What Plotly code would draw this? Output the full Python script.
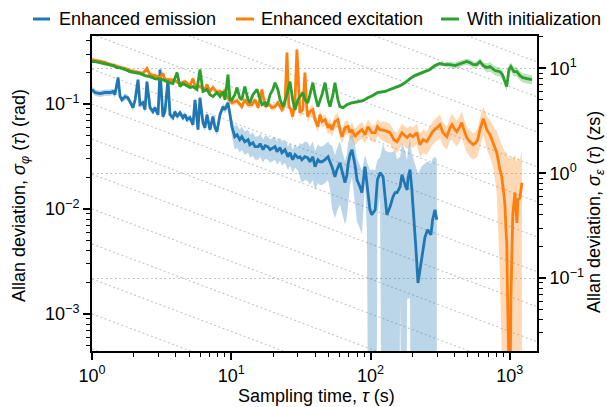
import plotly.graph_objects as go

# ---------------- data ----------------
blue_tau = [
    1.00, 1.05, 1.14, 1.24, 1.35, 1.42, 1.46, 1.54, 1.59, 1.64,
    1.73, 1.81, 1.87, 1.97, 2.04, 2.14, 2.21, 2.32, 2.40, 2.48,
    2.61, 2.74, 2.83, 2.98, 3.08, 3.23, 3.34, 3.51, 3.63, 3.81,
    3.94, 4.08, 4.28, 4.50, 4.65, 4.81, 5.05, 5.31, 5.49, 5.77,
    5.96, 6.26, 6.47, 6.69, 7.03, 7.39, 7.64, 7.89, 8.30, 8.72,
    9.01, 9.47, 9.79, 10.1, 10.6, 11.0, 11.5, 11.9, 12.5, 13.2,
    13.6, 14.3, 14.8, 15.6, 16.1, 16.9, 17.5, 18.3, 19.0, 20.6,
    21.3, 22.4, 23.1, 24.3, 25.5, 26.4, 27.6, 28.7, 30.1, 31.1,
    32.1, 33.8, 35.4, 36.7, 38.5, 39.9, 41.9, 43.3, 44.8, 47.1,
    49.5, 51.1, 52.8, 55.5, 57.4, 60.3, 62.3, 65.5, 67.7, 68.9,
    71.1, 73.5, 77.3, 79.9, 83.9, 86.7, 91.2, 94.2, 99.0, 102,
    108, 112, 117, 123, 127, 131, 138, 145, 150, 155,
    163, 168, 177, 183, 186, 192, 198, 205, 212, 219,
    226, 233, 246, 257, 271, 279, 290, 299,
]
blue_sigma = [
    0.138, 0.129, 0.126, 0.129, 0.129, 0.132, 0.123, 0.179, 0.118, 0.110,
    0.118, 0.115, 0.106, 0.0926, 0.110, 0.171, 0.0989, 0.103, 0.0886, 0.164,
    0.0926, 0.0848, 0.0926, 0.0794, 0.214, 0.0760, 0.0848, 0.171, 0.0794, 0.0743,
    0.0848, 0.0760, 0.0829, 0.0743, 0.0794, 0.0711, 0.0743, 0.0637, 0.110, 0.0571,
    0.115, 0.0666, 0.0596, 0.0794, 0.0571, 0.0760, 0.0596, 0.0546, 0.0794, 0.0946,
    0.0886, 0.103, 0.0794, 0.0610, 0.0489, 0.0511, 0.0458, 0.0489, 0.0438, 0.0458,
    0.0410, 0.0429, 0.0393, 0.0393, 0.0419, 0.0368, 0.0401, 0.0393, 0.0368, 0.0393,
    0.0352, 0.0384, 0.0344, 0.0368, 0.0315, 0.0344, 0.0295, 0.0330, 0.0308, 0.0315,
    0.0295, 0.0315, 0.0308, 0.0282, 0.0315, 0.0253, 0.0295, 0.0282, 0.0282, 0.0295,
    0.0315, 0.0282, 0.0253, 0.0203, 0.0237, 0.0276, 0.0227, 0.0178, 0.0212, 0.0264,
    0.0330, 0.0368, 0.0264, 0.0190, 0.0163, 0.0143, 0.0253, 0.0170, 0.00982, 0.00881,
    0.00982, 0.0190, 0.0222, 0.0203, 0.0122, 0.00881, 0.0105, 0.0131, 0.0143, 0.0143,
    0.0163, 0.0212, 0.0170, 0.0152, 0.0199, 0.0237, 0.0152, 0.00824, 0.00407, 0.00197,
    0.00262, 0.00365, 0.00542, 0.00633, 0.00567, 0.00788, 0.00982, 0.00788,
]
blue_rel_err = (
    [0.07] * 40
    + [0.08] * 10
    + [0.08, 0.08, 0.1, 0.2, 0.25, 0.25, 0.25, 0.25, 0.25, 0.25]
    + [0.25] * 10
    + [0.25] * 9 + [0.35]
    + [0.4] * 10
    + [0.4, 0.45, 0.6, 0.6, 0.6, 0.6, 0.6, 0.6, 0.6, 0.6]
    + [0.5, 0.45, 0.55, 0.6, 0.6, 0.6, 0.3, 0.65, 1.4, 1.7]
    + [1.4, 0.55, 0.4, 1.05, 2.0, 3.0, 2.3, 1.7, 1.5, 1.1]
    + [0.92, 1.05, 1.1, 0.91, 0.93, 0.94, 1.2, 2.5, 5.0, 10.0]
    + [8.0, 6.0, 4.0, 3.5, 3.8, 2.8, 2.2, 2.8]
)

orange_tau = [
    1.00, 1.05, 1.14, 1.24, 1.35, 1.46, 1.59, 1.73, 1.87, 2.04,
    2.21, 2.32, 2.48, 2.61, 2.83, 3.08, 3.23, 3.34, 3.63, 3.94,
    4.28, 4.65, 5.05, 5.31, 5.49, 5.96, 6.47, 6.69, 7.03, 7.39,
    7.89, 8.30, 8.72, 9.01, 9.47, 10.1, 11.0, 11.9, 12.5, 13.2,
    14.1, 14.8, 15.6, 16.6, 17.5, 18.3, 19.6, 20.6, 21.6, 23.1,
    24.3, 25.1, 25.9, 26.8, 27.6, 28.7, 29.6, 30.6, 31.1, 32.6,
    33.8, 34.9, 35.4, 36.7, 38.5, 39.9, 41.9, 43.3, 44.8, 47.1,
    49.5, 51.1, 52.8, 55.5, 58.3, 60.3, 62.3, 65.5, 68.9, 71.1,
    73.5, 77.3, 81.2, 86.7, 91.2, 95.8, 102, 108, 112, 117,
    127, 138, 147, 155, 163, 168, 183, 192, 201, 215,
    226, 238, 253, 267, 279, 299, 315, 331, 353, 372,
    384, 404, 416, 438, 451, 476, 490, 517, 546, 571,
    588, 610, 630, 644, 663, 683, 720, 760, 782, 806,
    849, 875, 907, 922, 938, 950, 964, 985, 1000, 1017,
    1034, 1050, 1088, 1106, 1124, 1142, 1182, 1221,
]
orange_sigma = [
    0.266, 0.260, 0.255, 0.249, 0.238, 0.233, 0.223, 0.218, 0.209, 0.204,
    0.200, 0.196, 0.218, 0.191, 0.187, 0.179, 0.196, 0.171, 0.171, 0.168,
    0.157, 0.164, 0.150, 0.175, 0.150, 0.147, 0.138, 0.154, 0.132, 0.144,
    0.129, 0.132, 0.121, 0.138, 0.115, 0.103, 0.108, 0.0946, 0.110, 0.0989,
    0.0989, 0.110, 0.0926, 0.138, 0.0946, 0.103, 0.0926, 0.0946, 0.103, 0.0886,
    0.0989, 0.310, 0.0946, 0.0886, 0.0760, 0.110, 0.332, 0.0989, 0.0829, 0.0886,
    0.200, 0.0886, 0.0760, 0.0848, 0.0886, 0.0711, 0.0610, 0.0794, 0.0681, 0.0711,
    0.0596, 0.0637, 0.0571, 0.0681, 0.0711, 0.0571, 0.0489, 0.0596, 0.0610, 0.0534,
    0.0571, 0.0489, 0.0534, 0.0571, 0.0511, 0.0610, 0.0534, 0.0534, 0.0610, 0.0571,
    0.0558, 0.0534, 0.0458, 0.0438, 0.0500, 0.0534, 0.0479, 0.0511, 0.0489, 0.0534,
    0.0410, 0.0458, 0.0438, 0.0500, 0.0546, 0.0596, 0.0637, 0.0534, 0.0489, 0.0596,
    0.0637, 0.0571, 0.0546, 0.0610, 0.0666, 0.0534, 0.0479, 0.0438, 0.0410, 0.0429,
    0.0458, 0.0571, 0.0681, 0.0727, 0.0651, 0.0571, 0.0511, 0.0429, 0.0384, 0.0344,
    0.0237, 0.0203, 0.0137, 0.0110, 0.00633, 0.00486, 0.00136, 0.0001, 0.0001, 0.00136,
    0.00407, 0.00881, 0.0143, 0.00982, 0.00738, 0.0122, 0.0128, 0.0178,
]
orange_rel_err = (
    [0.05] * 30
    + [0.07] * 20
    + [0.1] * 10
    + [0.12] * 10
    + [0.15] * 10
    + [0.18] * 10
    + [0.22] * 10
    + [0.25] * 10
    + [0.28] * 10
    + [0.3, 0.3, 0.3, 0.3, 0.32, 0.35, 0.38, 0.42, 0.5, 0.6]
    + [0.9, 1.0, 1.7, 2.2, 4.5, 6.0, 22.0, 300.0, 300.0, 22.0]
    + [7.0, 2.4, 1.3, 2.0, 2.8, 1.5, 1.3, 1.05]
)

green_tau = [
    1.00, 1.05, 1.14, 1.24, 1.35, 1.42, 1.51, 1.59, 1.73, 1.87,
    2.04, 2.21, 2.40, 2.61, 2.83, 3.08, 3.23, 3.45, 3.63, 3.81,
    4.08, 4.28, 4.50, 4.81, 5.05, 5.31, 5.67, 5.96, 6.26, 6.69,
    7.03, 7.39, 7.89, 8.30, 8.72, 9.01, 9.47, 9.79, 10.1, 10.6,
    11.0, 11.5, 11.9, 12.5, 13.2, 13.6, 14.3, 15.3, 16.1, 16.6,
    17.5, 18.0, 19.0, 19.9, 20.6, 21.6, 22.4, 23.5, 25.1, 26.4,
    27.6, 28.7, 30.1, 31.1, 32.6, 33.8, 35.4, 36.7, 38.5, 39.9,
    41.9, 44.8, 47.1, 49.5, 51.1, 53.7, 55.5, 58.3, 60.3, 63.4,
    67.7, 73.5, 81.2, 88.2, 95.8, 104, 112, 127, 138, 150,
    163, 177, 192, 208, 226, 246, 267, 290, 315, 342,
    372, 404, 438, 457, 490, 517, 546, 579, 610, 644,
    683, 720, 782, 849, 884, 922, 950, 985, 1017, 1070,
    1124, 1182, 1241, 1327, 1442,
]
green_sigma = [
    0.255, 0.255, 0.249, 0.2436, 0.238, 0.233, 0.223, 0.223, 0.214, 0.204,
    0.200, 0.196, 0.187, 0.183, 0.175, 0.171, 0.171, 0.164, 0.160, 0.157,
    0.200, 0.147, 0.157, 0.150, 0.144, 0.147, 0.138, 0.214, 0.132, 0.138,
    0.123, 0.118, 0.129, 0.118, 0.132, 0.110, 0.191, 0.110, 0.110, 0.123,
    0.144, 0.115, 0.110, 0.147, 0.110, 0.103, 0.123, 0.138, 0.110, 0.0989,
    0.103, 0.0946, 0.123, 0.138, 0.160, 0.138, 0.110, 0.0946, 0.123, 0.164,
    0.110, 0.0886, 0.110, 0.118, 0.129, 0.110, 0.103, 0.123, 0.160, 0.123,
    0.0946, 0.123, 0.160, 0.110, 0.0946, 0.123, 0.160, 0.110, 0.0946, 0.0926,
    0.0989, 0.103, 0.106, 0.108, 0.115, 0.121, 0.129, 0.132, 0.138, 0.144,
    0.150, 0.160, 0.175, 0.187, 0.196, 0.204, 0.214, 0.233, 0.2436, 0.238,
    0.238, 0.233, 0.2436, 0.249, 0.255, 0.249, 0.238, 0.238, 0.255, 0.233,
    0.223, 0.228, 0.209, 0.204, 0.191, 0.164, 0.147, 0.214, 0.228, 0.204,
    0.204, 0.187, 0.179, 0.175, 0.171,
]
green_rel_err = [0.035] * 90 + [0.04] * 10 + [0.07] * 10 + [0.1] * 15

series_names = ["Enhanced emission", "Enhanced excitation", "With initialization"]
series_colors = ["#1f77b4", "#ff7f0e", "#2ca02c"]
band_colors = ["rgba(31,119,180,0.30)", "rgba(255,127,14,0.30)", "rgba(44,160,44,0.30)"]

# tau^-1/2 guide levels (value at tau = 1 s, left-axis units)
ref_levels = [4.64e-4, 1.0e-3, 2.15e-3, 4.64e-3, 1.0e-2, 2.15e-2, 4.64e-2,
              0.1, 0.215, 0.464, 1.0, 2.15, 4.64, 10.0, 21.5]

x_ticks = [1, 10, 100, 1000]
x_ticktext = ["10<sup>0</sup>", "10<sup>1</sup>", "10<sup>2</sup>", "10<sup>3</sup>"]
yl_ticks = [1e-3, 1e-2, 1e-1]
yl_ticktext = ["10<sup>\u22123</sup>", "10<sup>\u22122</sup>", "10<sup>\u22121</sup>"]
yr_ticks = [1e-1, 1, 10]
yr_ticktext = ["10<sup>\u22121</sup>", "10<sup>0</sup>", "10<sup>1</sup>"]

# ---------------- figure ----------------
fig = go.Figure()

for c in ref_levels:
    xs = [1.0, 3000.0]
    fig.add_trace(go.Scatter(x=xs, y=[c * x ** -0.5 for x in xs], mode="lines",
                             line=dict(color="#c4c4c4", width=1.1, dash="2px,2.5px"),
                             hoverinfo="skip", showlegend=False))

all_series = [
    (blue_tau, blue_sigma, blue_rel_err),
    (orange_tau, orange_sigma, orange_rel_err),
    (green_tau, green_sigma, green_rel_err),
]
for (tau, sig, rel), name, col, bcol in zip(all_series, series_names, series_colors, band_colors):
    assert len(tau) == len(sig) == len(rel), name
    hi = [s * (1 + r) for s, r in zip(sig, rel)]
    lo = [max(s * (1 - r), 1e-7) for s, r in zip(sig, rel)]
    fig.add_trace(go.Scatter(x=tau, y=hi, mode="lines", line=dict(width=0, color=bcol),
                             hoverinfo="skip", showlegend=False))
    fig.add_trace(go.Scatter(x=tau, y=lo, mode="lines", line=dict(width=0, color=bcol),
                             fill="tonexty", fillcolor=bcol, hoverinfo="skip", showlegend=False))
    fig.add_trace(go.Scatter(x=tau, y=sig, mode="lines", name=name,
                             line=dict(color=col, width=2.8), showlegend=False))

# dummy trace so the right axis is drawn
fig.add_trace(go.Scatter(x=[1], y=[1], yaxis="y2", mode="markers",
                         marker=dict(opacity=0), hoverinfo="skip", showlegend=False))


def minor_vals(lo_exp, hi_exp):
    return [m * 10.0 ** e for e in range(lo_exp, hi_exp + 1) for m in range(2, 10)]


axis_common = dict(type="log", showline=True, linecolor="black", linewidth=2,
                   ticks="outside", ticklen=7, tickwidth=1.6, tickcolor="black",
                   zeroline=False, tickfont=dict(size=18, color="black"))

fig.update_layout(
    width=607, height=407,
    margin=dict(l=92, r=70, t=36, b=56),
    paper_bgcolor="white", plot_bgcolor="white",
    showlegend=False,
    font=dict(family="Liberation Sans, Arial, Helvetica, sans-serif", size=18, color="black"),
    xaxis=dict(**axis_common, range=[0, 3.195], tickmode="array", tickvals=x_ticks,
               ticktext=x_ticktext, mirror=True, showgrid=False,
               minor=dict(tickvals=minor_vals(0, 3), ticks="outside", ticklen=4,
                          tickwidth=1.3, tickcolor="black", showgrid=False)),
    yaxis=dict(**axis_common, range=[-3.354, -0.3505], tickmode="array", tickvals=yl_ticks,
               ticktext=yl_ticktext, showgrid=False,
               minor=dict(tickvals=minor_vals(-4, -1), ticks="outside", ticklen=4,
                          tickwidth=1.3, tickcolor="black", showgrid=False)),
    yaxis2=dict(**axis_common, overlaying="y", side="right", range=[-1.695, 1.309],
                tickmode="array", tickvals=yr_ticks, ticktext=yr_ticktext,
                showgrid=True, gridcolor="#c4c4c4", gridwidth=1.1, griddash="2px,2.5px",
                minor=dict(tickvals=minor_vals(-2, 1), ticks="outside", ticklen=4,
                           tickwidth=1.3, tickcolor="black", showgrid=False)),
)

# axis titles
PW, PH, L, B = 445.0, 315.0, 92.0, 351.0


def px_x(px):
    return (px - L) / PW


def px_y(py):
    return (B - py) / PH


annots = [
    dict(text="Sampling time, <i>\u03c4</i> (s)", x=px_x(316), y=px_y(396), textangle=0),
    dict(text="Allan deviation, <i>\u03c3</i><sub><i>\u03c6</i></sub> (<i>\u03c4</i>) (rad)",
         x=px_x(20), y=px_y(196), textangle=-90),
    dict(text="Allan deviation, <i>\u03c3</i><sub><i>\u03b5</i></sub> (<i>\u03c4</i>) (zs)",
         x=px_x(595), y=px_y(212), textangle=-90),
]
for a in annots:
    fig.add_annotation(xref="paper", yref="paper", showarrow=False, xanchor="center",
                       yanchor="middle", font=dict(size=18, color="black"), **a)

# legend drawn by hand (short line samples)
legend_pos = [(33, 50, 57), (236, 254, 259), (441, 459, 465)]
legend_y = 19
for (x0, x1, xt), name, col in zip(legend_pos, series_names, series_colors):
    fig.add_shape(type="line", xref="paper", yref="paper", x0=px_x(x0), x1=px_x(x1),
                  y0=px_y(legend_y), y1=px_y(legend_y), line=dict(color=col, width=3))
    fig.add_annotation(xref="paper", yref="paper", x=px_x(xt), y=px_y(legend_y),
                       text=name, showarrow=False, xanchor="left", yanchor="middle",
                       font=dict(size=18, color="black"))

fig.write_html("out.html")
